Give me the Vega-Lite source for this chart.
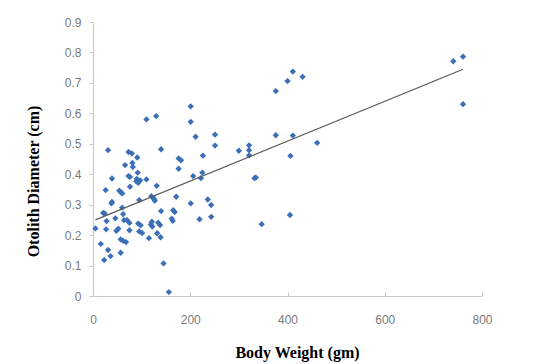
{
  "$schema": "https://vega.github.io/schema/vega-lite/v6.json",
  "width": 389,
  "height": 274,
  "autosize": {"type": "none"},
  "padding": {"left": 93, "top": 22, "right": 59, "bottom": 68},
  "background": "white",
  "config": {
    "view": {"stroke": null},
    "axis": {
      "grid": false,
      "domainColor": "#c8c8c8",
      "tickColor": "#c8c8c8",
      "labelColor": "#7a7a7a",
      "labelFont": "Liberation Sans",
      "labelFontSize": 12,
      "labelOverlap": false,
      "labelFlush": false,
      "titleFont": "Liberation Serif",
      "titleFontSize": 16,
      "titleFontWeight": "bold",
      "titleColor": "#000000"
    }
  },
  "datasets": {
    "fish": [
      {"w": 31, "d": 0.479}, {"w": 73, "d": 0.473}, {"w": 80, "d": 0.468}, {"w": 91, "d": 0.455},
      {"w": 66, "d": 0.430}, {"w": 81, "d": 0.437}, {"w": 82, "d": 0.424}, {"w": 39, "d": 0.386},
      {"w": 73, "d": 0.394}, {"w": 76, "d": 0.391}, {"w": 92, "d": 0.405}, {"w": 89, "d": 0.377},
      {"w": 93, "d": 0.372}, {"w": 97, "d": 0.380}, {"w": 90, "d": 0.385}, {"w": 110, "d": 0.383},
      {"w": 26, "d": 0.348}, {"w": 54, "d": 0.346}, {"w": 58, "d": 0.340}, {"w": 60, "d": 0.337},
      {"w": 76, "d": 0.359}, {"w": 39, "d": 0.309}, {"w": 38, "d": 0.304}, {"w": 95, "d": 0.315},
      {"w": 21, "d": 0.273}, {"w": 24, "d": 0.271}, {"w": 5, "d": 0.222}, {"w": 28, "d": 0.246},
      {"w": 46, "d": 0.255}, {"w": 62, "d": 0.269}, {"w": 64, "d": 0.249}, {"w": 60, "d": 0.290},
      {"w": 70, "d": 0.249}, {"w": 75, "d": 0.240}, {"w": 27, "d": 0.219}, {"w": 48, "d": 0.214},
      {"w": 52, "d": 0.221}, {"w": 75, "d": 0.216}, {"w": 93, "d": 0.238}, {"w": 98, "d": 0.232},
      {"w": 95, "d": 0.212}, {"w": 101, "d": 0.207}, {"w": 16, "d": 0.171}, {"w": 57, "d": 0.186},
      {"w": 62, "d": 0.181}, {"w": 68, "d": 0.177}, {"w": 31, "d": 0.151}, {"w": 36, "d": 0.131},
      {"w": 23, "d": 0.118}, {"w": 57, "d": 0.142},
      {"w": 201, "d": 0.623}, {"w": 201, "d": 0.572}, {"w": 211, "d": 0.523}, {"w": 110, "d": 0.580},
      {"w": 130, "d": 0.591}, {"w": 140, "d": 0.482}, {"w": 176, "d": 0.452}, {"w": 181, "d": 0.446},
      {"w": 176, "d": 0.418}, {"w": 206, "d": 0.394}, {"w": 131, "d": 0.362}, {"w": 120, "d": 0.328},
      {"w": 124, "d": 0.322}, {"w": 127, "d": 0.313}, {"w": 126, "d": 0.318}, {"w": 171, "d": 0.326},
      {"w": 201, "d": 0.304}, {"w": 140, "d": 0.279}, {"w": 165, "d": 0.282}, {"w": 168, "d": 0.276},
      {"w": 162, "d": 0.254}, {"w": 164, "d": 0.247}, {"w": 219, "d": 0.252}, {"w": 121, "d": 0.244},
      {"w": 119, "d": 0.235}, {"w": 122, "d": 0.228}, {"w": 134, "d": 0.241}, {"w": 138, "d": 0.233},
      {"w": 115, "d": 0.190}, {"w": 132, "d": 0.206}, {"w": 139, "d": 0.193}, {"w": 145, "d": 0.107},
      {"w": 156, "d": 0.013},
      {"w": 251, "d": 0.530}, {"w": 251, "d": 0.494}, {"w": 226, "d": 0.461}, {"w": 300, "d": 0.477},
      {"w": 321, "d": 0.495}, {"w": 321, "d": 0.479}, {"w": 321, "d": 0.462}, {"w": 225, "d": 0.405},
      {"w": 222, "d": 0.387}, {"w": 332, "d": 0.387}, {"w": 335, "d": 0.389}, {"w": 236, "d": 0.317},
      {"w": 243, "d": 0.299}, {"w": 243, "d": 0.260}, {"w": 741, "d": 0.771}, {"w": 761, "d": 0.786},
      {"w": 761, "d": 0.630}, {"w": 411, "d": 0.737}, {"w": 400, "d": 0.706}, {"w": 431, "d": 0.720},
      {"w": 376, "d": 0.673}, {"w": 376, "d": 0.528}, {"w": 411, "d": 0.527}, {"w": 461, "d": 0.503},
      {"w": 406, "d": 0.460}, {"w": 405, "d": 0.266}, {"w": 347, "d": 0.236}
    ],
    "trend": [
      {"w": 5, "d": 0.250},
      {"w": 761, "d": 0.745}
    ],
    "note": [
      {"label": "y = 0.000x + 0.247\nr = 0.628\nN = 133"}
    ]
  },
  "encoding": {
    "x": {
      "field": "w", "type": "quantitative",
      "scale": {"domain": [0, 800], "nice": false, "zero": true},
      "axis": {
        "title": "Body Weight (gm)",
        "values": [0, 200, 400, 600, 800],
        "tickSize": -4,
        "labelPadding": 22,
        "titleX": 204,
        "titleY": 56,
        "titleBaseline": "middle",
        "titleAlign": "center"
      }
    },
    "y": {
      "field": "d", "type": "quantitative",
      "scale": {"domain": [0, 0.9], "nice": false},
      "axis": {
        "title": "Otolith Diameter (cm)",
        "values": [0, 0.1, 0.2, 0.3, 0.4, 0.5, 0.6, 0.7, 0.8, 0.9],
        "format": ".1~f",
        "tickSize": 4,
        "labelPadding": 8,
        "titleX": -60,
        "titleY": 159,
        "titleAngle": -90,
        "titleBaseline": "middle",
        "titleAlign": "center"
      }
    }
  },
  "layer": [
    {
      "data": {"name": "fish"},
      "mark": {"type": "point", "shape": "diamond", "filled": true, "size": 40, "color": "#3b6fb6", "opacity": 1}
    },
    {
      "data": {"name": "trend"},
      "mark": {"type": "line", "color": "#5a5a5a", "strokeWidth": 1.2}
    },
    {
      "data": {"name": "note"},
      "mark": {"type": "text", "font": "Liberation Serif", "fontSize": 15, "color": "#000000", "align": "center", "baseline": "middle", "lineBreak": "\n", "lineHeight": 18},
      "encoding": {
        "text": {"field": "label"},
        "x": {"datum": 216, "type": "quantitative"},
        "y": {"datum": 0.791, "type": "quantitative"}
      }
    }
  ]
}
